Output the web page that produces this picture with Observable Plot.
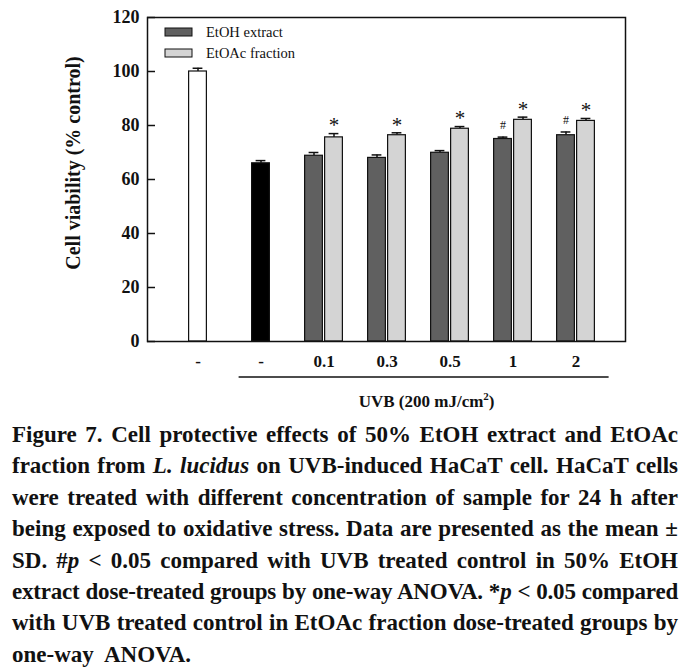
<!DOCTYPE html>
<html>
<head>
<meta charset="utf-8">
<script src="https://cdn.jsdelivr.net/npm/d3@7"></script>
<script src="https://cdn.jsdelivr.net/npm/@observablehq/plot@0.6"></script>
<style>
  html, body { margin: 0; padding: 0; background: #fff; }
  #chart svg { display: block; }
  #caption { margin-left: 12px; width: 666px; font-family: "Liberation Serif", "Times New Roman", serif; font-weight: bold; font-size: 23px; line-height: 31.4px; color: #111; }
  #caption div { text-align: justify; text-align-last: justify; }
  #caption div.last { text-align-last: left; }
</style>
</head>
<body>
<div id="chart"></div>
<div id="caption">
  <div>Figure 7. Cell protective effects of 50% EtOH extract and EtOAc</div>
  <div>fraction from <i>L. lucidus</i> on UVB-induced HaCaT cell. HaCaT cells</div>
  <div>were treated with different concentration of sample for 24 h after</div>
  <div>being exposed to oxidative stress. Data are presented as the mean ±</div>
  <div>SD. #<i>p</i> &lt; 0.05 compared with UVB treated control in 50% EtOH</div>
  <div>extract dose-treated groups by one-way ANOVA. *<i>p</i> &lt; 0.05 compared</div>
  <div>with UVB treated control in EtOAc fraction dose-treated groups by</div>
  <div class="last">one-way&nbsp; ANOVA.</div>
</div>
<script>
// ---- data ----
const groups = ["Control", "UVB", "0.1", "0.3", "0.5", "1", "2"];
const tickLabels = ["-", "-", "0.1", "0.3", "0.5", "1", "2"];
const controlGroups = ["Control", "UVB"];
const controlMean = [100, 66.0];
const controlSD = [1.2, 1.0];
const doseGroups = ["0.1", "0.3", "0.5", "1", "2"];
const etohMean = [68.8, 68.0, 69.9, 75.0, 76.4];
const etohSD = [1.2, 1.1, 0.8, 0.7, 1.2];
const etohSig = ["", "", "", "#", "#"];
const etoacMean = [75.6, 76.4, 78.8, 82.1, 81.7];
const etoacSD = [1.4, 0.9, 0.8, 1.0, 0.9];
const etoacSig = ["*", "*", "*", "*", "*"];
const seriesNames = ["EtOH extract", "EtOAc fraction"];
const yTicks = [0, 20, 40, 60, 80, 100, 120];
const xTitle = "UVB (200 mJ/cm";
const yTitle = "Cell viability (% control)";

// ---- tables ----
const controls = controlGroups.map((g, i) => ({group: g, mean: controlMean[i], sd: controlSD[i], kind: i}));
const etoh = doseGroups.map((g, i) => ({group: g, mean: etohMean[i], sd: etohSD[i], sig: etohSig[i]}));
const etoac = doseGroups.map((g, i) => ({group: g, mean: etoacMean[i], sd: etoacSD[i], sig: etoacSig[i]}));

// ---- layout ----
const W = 700, H = 419;
const mL = 147, mR = 75, mT = 17, mB = 78;
const plotW = W - mL - mR;
const padOuter = 0.28;
const bw = plotW / (groups.length + 2 * padOuter);
const barW = 18, capW = 10, off = 10;
const barInset = (bw - barW) / 2;
const capInset = (bw - capW) / 2;
const serif = "'Liberation Serif', 'Times New Roman', serif";

const colDark = "#606060", colLight = "#d4d4d4";

const plot = Plot.plot({
  width: W, height: H,
  marginLeft: mL, marginRight: mR, marginTop: mT, marginBottom: mB,
  style: {fontFamily: serif, fontSize: "18px", fontWeight: "bold", color: "#111", background: "#fff"},
  x: {type: "band", domain: groups, paddingInner: 0, paddingOuter: padOuter, label: null},
  y: {domain: [0, 120], label: null},
  marks: [
    // error bars (upper)
    Plot.ruleX(controls, {x: "group", y1: "mean", y2: d => d.mean + d.sd, stroke: "#111", strokeWidth: 1.5}),
    Plot.tickY(controls, {x: "group", y: d => d.mean + d.sd, stroke: "#111", strokeWidth: 1.5, insetLeft: capInset, insetRight: capInset}),
    Plot.ruleX(etoh, {x: "group", y1: "mean", y2: d => d.mean + d.sd, dx: -off, stroke: "#111", strokeWidth: 1.5}),
    Plot.tickY(etoh, {x: "group", y: d => d.mean + d.sd, dx: -off, stroke: "#111", strokeWidth: 1.5, insetLeft: capInset, insetRight: capInset}),
    Plot.ruleX(etoac, {x: "group", y1: "mean", y2: d => d.mean + d.sd, dx: off, stroke: "#111", strokeWidth: 1.5}),
    Plot.tickY(etoac, {x: "group", y: d => d.mean + d.sd, dx: off, stroke: "#111", strokeWidth: 1.5, insetLeft: capInset, insetRight: capInset}),
    // bars
    Plot.barY(controls, {x: "group", y: "mean", fill: d => d.kind === 0 ? "#ffffff" : "#000000", stroke: "#111", strokeWidth: 1.2, insetLeft: barInset, insetRight: barInset}),
    Plot.barY(etoh, {x: "group", y: "mean", dx: -off, fill: colDark, stroke: "#111", strokeWidth: 1.2, insetLeft: barInset, insetRight: barInset}),
    Plot.barY(etoac, {x: "group", y: "mean", dx: off, fill: colLight, stroke: "#111", strokeWidth: 1.2, insetLeft: barInset, insetRight: barInset}),
    // significance marks
    Plot.text(etoh, {x: "group", y: d => d.mean + d.sd, text: "sig", dx: -off, dy: -12, fontSize: 12, fontWeight: "normal", fill: "#111"}),
    Plot.text(etoac, {x: "group", y: d => d.mean + d.sd, text: "sig", dx: off, dy: -8, fontSize: 21, fontWeight: "normal", fill: "#111"}),
    // inward y ticks
    Plot.ruleY(yTicks, {stroke: "#111", strokeWidth: 1.5, insetRight: plotW - 8}),
    Plot.axisY({ticks: yTicks, tickSize: 0, tickPadding: 8, fontSize: 18, fontWeight: "bold"}),
    Plot.axisX({tickSize: 0, tickPadding: 13, tickFormat: (d, i) => tickLabels[groups.indexOf(d)], fontSize: 17, fontWeight: "bold"}),
    Plot.frame({stroke: "#111", strokeWidth: 1.5})
  ]
});
document.getElementById("chart").appendChild(plot);

// ---- annotations drawn from scales ----
const svg = d3.select(plot);
const xs = plot.scale("x");
const ys = plot.scale("y");
const xStart = xs.apply("UVB") + bw / 2 - 22;
const xEnd = xs.apply("2") + bw / 2 + 33;
const yLine = ys.apply(0) + 36;
svg.append("line").attr("x1", xStart).attr("x2", xEnd).attr("y1", yLine).attr("y2", yLine)
  .attr("stroke", "#111").attr("stroke-width", 1.3);
const t = svg.append("text").attr("x", (xStart + xEnd) / 2 + 3).attr("y", yLine + 30)
  .attr("text-anchor", "middle").attr("font-family", serif).attr("font-weight", "bold").attr("font-size", 17).attr("fill", "#111");
t.append("tspan").text(xTitle);
t.append("tspan").text("2").attr("font-size", 11).attr("dy", -7);
t.append("tspan").text(")").attr("dy", 7);

// y title
svg.append("text").attr("transform", `translate(73,${(ys.apply(120) + ys.apply(0)) / 2 - 16}) rotate(-90)`)
  .attr("text-anchor", "middle").attr("dominant-baseline", "central")
  .attr("font-family", serif).attr("font-weight", "bold").attr("font-size", 20).attr("fill", "#111").text(yTitle);

// legend
const legX = mL + 18, legY = mT + 11;
const legColors = [colDark, colLight];
seriesNames.forEach((name, i) => {
  const yy = legY + i * 21;
  svg.append("rect").attr("x", legX).attr("y", yy).attr("width", 27).attr("height", 8)
    .attr("fill", legColors[i]).attr("stroke", "#111").attr("stroke-width", 1);
  svg.append("text").attr("x", legX + 41).attr("y", yy + 9).attr("text-anchor", "start")
    .attr("font-family", serif).attr("font-weight", "normal").attr("font-size", 14.5).attr("fill", "#111").text(name);
});

// caption: keep each line on one row
document.querySelectorAll("#caption div").forEach(div => {
  let ls = 0;
  while (div.offsetHeight > 40 && ls > -2) { ls -= 0.1; div.style.letterSpacing = ls + "px"; }
});
</script>
</body>
</html>
